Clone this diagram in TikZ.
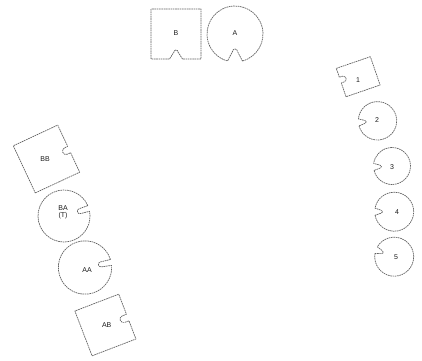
\documentclass[tikz,border=0pt]{standalone}
\usepackage{fontspec}
\setmainfont{Liberation Sans}
\tikzset{
  outline/.style={draw=black!62, line width=0.7pt, dash pattern=on 1.6pt off 0.7pt, line join=round},
  lbl/.style={font=\fontsize{7}{7.5}\selectfont, text=black!90, inner sep=0pt, align=center}
}
% circle with a notch: cx cy r rot halfw depth tipr
\newcommand{\notchcirc}[7]{%
  \begin{scope}[shift={(#1,#2)},rotate=#4]
    \pgfmathsetmacro{\myang}{asin(#5/#3)}
    \draw[outline] (\myang:#3) arc[start angle=\myang, end angle=360-\myang, radius=#3]
      -- ({#3-#6+#7},{-#7}) arc[start angle=-90, end angle=-270, radius=#7] -- cycle;
  \end{scope}}
% rectangle with a notch on its local right edge: cx cy W H rot p halfw depth tipr
\newcommand{\notchsq}[9]{%
  \begin{scope}[shift={(#1,#2)},rotate=#5]
    \draw[outline] ({-#3/2},{-#4/2}) -- ({#3/2},{-#4/2}) -- ({#3/2},{#6-#7})
      -- ({#3/2-#8+#9},{#6-#9}) arc[start angle=-90, end angle=-270, radius=#9]
      -- ({#3/2},{#6+#7}) -- ({#3/2},{#4/2}) -- ({-#3/2},{#4/2}) -- cycle;
  \end{scope}}
\begin{document}
\begin{tikzpicture}[x=1pt,y=1pt]
\useasboundingbox (0,0) rectangle (422,360);
% top pair
\notchsq{176}{326}{50}{50}{-90}{0}{6.5}{9}{2}
\notchcirc{235}{326}{28}{-90}{7.5}{13}{2.5}
% left column
\notchsq{46.5}{201}{49}{52}{25}{-1}{3.5}{7}{3.5}
\notchcirc{64}{144}{26}{17}{3}{12}{2.5}
\notchcirc{85}{92.5}{26.7}{11}{3}{13}{2.5}
\notchsq{105.4}{35}{47}{48}{21}{-1}{3.5}{8}{3.5}
% right column
\notchsq{358.2}{283.3}{36}{30}{199}{-2.6}{3}{6}{3}
\notchcirc{377.5}{239.2}{19.2}{185}{3.5}{8}{1.5}
\notchcirc{392}{194}{18.5}{183}{3.5}{8}{1.5}
\notchcirc{394.2}{148.3}{19.5}{180}{3.5}{8}{1.5}
\notchcirc{394.2}{103.3}{19.5}{160}{3.5}{8}{1.5}
% labels
\node[lbl] (tB) at (176,327) {B};
\node[lbl] (tA) at (235,327) {A};
\node[lbl] (tBB) at (45,200.7) {BB};
\node[lbl] (tBA) at (63,147.5) {BA\\[-1pt](T)};
\node[lbl] (tAA) at (87,90) {AA};
\node[lbl] (tAB) at (106.7,35) {AB};
\node[lbl] (t1) at (358,280) {1};
\node[lbl] (t2) at (377,240) {2};
\node[lbl] (t3) at (392,193) {3};
\node[lbl] (t4) at (397,148) {4};
\node[lbl] (t5) at (396,103) {5};
\end{tikzpicture}
\end{document}
